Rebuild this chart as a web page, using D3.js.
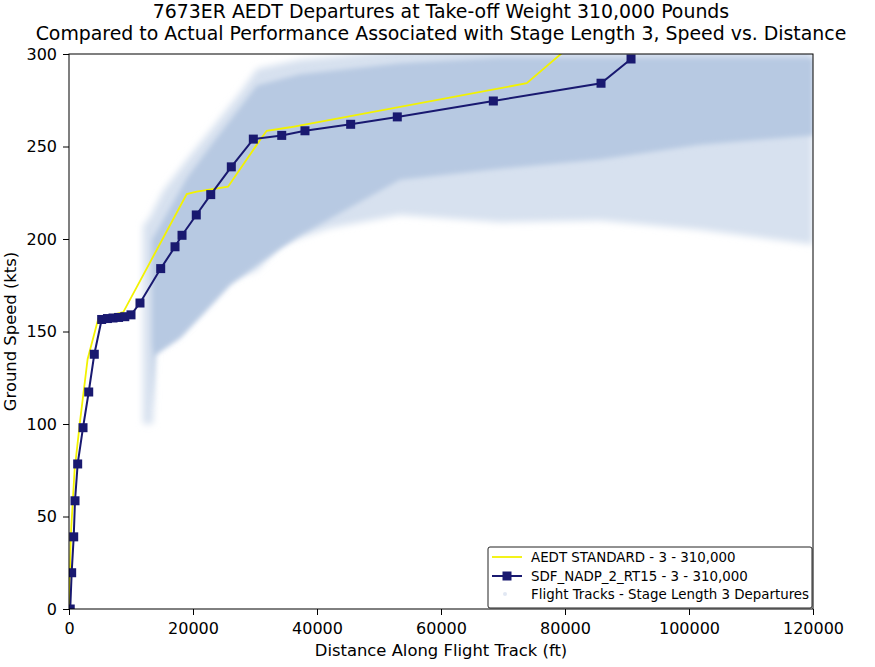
<!DOCTYPE html>
<html><head><meta charset="utf-8">
<script src="https://cdn.jsdelivr.net/npm/d3@7"></script>
<style>body{margin:0;background:#fff} text{font-family:"DejaVu Sans",sans-serif;fill:#000}</style>
</head><body>
<svg id="c" width="875" height="667"></svg>
<script>
// ---------- data ----------
const titleLines = ["7673ER AEDT Departures at Take-off Weight 310,000 Pounds",
  "Compared to Actual Performance Associated with Stage Length 3, Speed vs. Distance"];
const xLabel = "Distance Along Flight Track (ft)";
const yLabel = "Ground Speed (kts)";
const xTicks = [0, 20000, 40000, 60000, 80000, 100000, 120000];
const yTicks = [0, 50, 100, 150, 200, 250, 300];
const legendLabels = ["AEDT STANDARD - 3 - 310,000", "SDF_NADP_2_RT15 - 3 - 310,000", "Flight Tracks - Stage Length 3 Departures"];

const aedtX = [0, 300, 900, 1800, 3000, 4730, 8760, 18990, 20600, 25650, 30810, 31890, 35650, 73830, 79470, 85000];
const aedtY = [0, 40, 75, 102, 135, 157, 160.5, 224.3, 225.6, 228.3, 253.5, 258.5, 260.4, 284.2, 300.4, 320];

const sdfX = [200, 430, 760, 970, 1400, 2260, 3180, 4080, 5270, 6200, 7100, 8000, 9000, 10000, 11450, 14790, 17100, 18230, 20530, 22860, 26180, 29730, 34310, 38060, 45430, 52950, 68440, 85810, 90650];
const sdfY = [0, 19.6, 39, 58.5, 78.4, 98, 117.3, 137.7, 156.5, 157, 157.3, 157.6, 158, 159, 165.4, 184, 195.8, 202, 213, 224, 239, 254, 256, 258.5, 262, 266, 274.6, 284.2, 297.3];

// flight-track cloud envelopes
const outerUpX = [11935, 13065, 15160, 19030, 23225, 27580, 30325, 37260, 53390, 69520, 120000];
const outerUpY = [207, 212, 226, 243, 260.5, 279, 292, 297, 302, 305, 305];
const outerLoX = [120000, 101780, 85650, 69520, 53390, 42100, 34030, 30320, 25970, 22260, 17900, 13870, 13550, 11935];
const outerLoY = [197, 205, 210, 209, 213, 206, 197, 183, 178, 165, 148, 140, 100, 100];
const innerUpX = [13390, 19030, 23225, 27580, 30320, 37260, 53390, 69520, 120000];
const innerUpY = [199.5, 233, 252, 271, 283, 289, 295, 298, 298];
const innerLoX = [120000, 101780, 85650, 69520, 53390, 37260, 30320, 25970, 22260, 17900, 13870, 13390];
const innerLoY = [256, 251, 243, 238, 232, 202, 186, 175, 161.6, 146.5, 137, 107.6];

// ---------- layout ----------
const L = 69, R = 813, T = 54, B = 609;
const svg = d3.select("#c");
const x = d3.scaleLinear().domain([0, 120000]).range([L, R]);
const y = d3.scaleLinear().domain([0, 300]).range([B, T]);

const defs = svg.append("defs");
defs.append("clipPath").attr("id", "clip").append("rect")
  .attr("x", L).attr("y", T).attr("width", R - L).attr("height", B - T);
const f1 = defs.append("filter").attr("id", "blur1").attr("x", "-10%").attr("y", "-10%").attr("width", "120%").attr("height", "120%");
f1.append("feGaussianBlur").attr("stdDeviation", 3.5);
const f2 = defs.append("filter").attr("id", "blur2").attr("x", "-10%").attr("y", "-10%").attr("width", "120%").attr("height", "120%");
f2.append("feGaussianBlur").attr("stdDeviation", 2.5);

const plot = svg.append("g").attr("clip-path", "url(#clip)");

const poly = d3.line().x(d => x(d[0])).y(d => y(d[1]));
function ring(ux, uy, lx, ly) {
  const pts = ux.map((v, i) => [v, uy[i]]).concat(lx.map((v, i) => [v, ly[i]]));
  return poly(pts) + "Z";
}
plot.append("path").attr("d", ring(outerUpX, outerUpY, outerLoX, outerLoY))
  .attr("fill", "#d7e1ef").attr("filter", "url(#blur1)");
plot.append("path").attr("d", ring(innerUpX, innerUpY, innerLoX, innerLoY))
  .attr("fill", "#b7c9e2").attr("filter", "url(#blur2)");

const aedt = aedtX.map((v, i) => [v, aedtY[i]]);
const sdf = sdfX.map((v, i) => [v, sdfY[i]]);
plot.append("path").attr("d", poly(aedt)).attr("fill", "none").attr("stroke", "#f2f200").attr("stroke-width", 1.8);
plot.append("path").attr("d", poly(sdf)).attr("fill", "none").attr("stroke", "#191970").attr("stroke-width", 2);
const ms = 9;
plot.selectAll("rect.m").data(sdf).enter().append("rect").attr("class", "m")
  .attr("x", d => x(d[0]) - ms / 2).attr("y", d => y(d[1]) - ms / 2)
  .attr("width", ms).attr("height", ms).attr("fill", "#191970");

// ---------- axes ----------
const fs = 16;
const xa = svg.append("g").attr("transform", `translate(0,${B})`)
  .call(d3.axisBottom(x).tickValues(xTicks).tickFormat(d3.format("d")).tickSize(6).tickPadding(8));
const ya = svg.append("g").attr("transform", `translate(${L},0)`)
  .call(d3.axisLeft(y).tickValues(yTicks).tickFormat(d3.format("d")).tickSize(6).tickPadding(6));
[xa, ya].forEach(a => {
  a.select(".domain").remove();
  a.selectAll("line").attr("stroke", "#000");
  a.selectAll("text").attr("font-size", fs).attr("font-family", "DejaVu Sans").attr("fill", "#000");
});
svg.append("rect").attr("x", L).attr("y", T).attr("width", R - L).attr("height", B - T)
  .attr("fill", "none").attr("stroke", "#000").attr("stroke-width", 1);

svg.append("text").attr("x", (L + R) / 2).attr("y", 656).attr("text-anchor", "middle")
  .attr("font-size", 16.4).text(xLabel);
svg.append("text").attr("transform", `translate(16,${(T + B) / 2}) rotate(-90)`).attr("text-anchor", "middle")
  .attr("font-size", 16.4).text(yLabel);

svg.selectAll("text.title").data(titleLines).enter().append("text").attr("class", "title")
  .attr("x", (L + R) / 2).attr("y", (d, i) => 17.6 + i * 22.1).attr("text-anchor", "middle")
  .attr("font-size", 18.9).text(d => d);

// ---------- legend ----------
const lg = svg.append("g");
const lx0 = 488, ly0 = 547, lw = 324, lh = 61;
lg.append("rect").attr("x", lx0).attr("y", ly0).attr("width", lw).attr("height", lh).attr("rx", 2)
  .attr("fill", "#fff").attr("fill-opacity", 0.85).attr("stroke", "#222").attr("stroke-width", 1);
const rows = [557, 576, 594];
lg.append("line").attr("x1", lx0 + 4).attr("x2", lx0 + 34).attr("y1", rows[0]).attr("y2", rows[0])
  .attr("stroke", "#f2f200").attr("stroke-width", 1.8);
lg.append("line").attr("x1", lx0 + 4).attr("x2", lx0 + 34).attr("y1", rows[1]).attr("y2", rows[1])
  .attr("stroke", "#191970").attr("stroke-width", 2);
lg.append("rect").attr("x", lx0 + 19 - ms / 2).attr("y", rows[1] - ms / 2).attr("width", ms).attr("height", ms).attr("fill", "#191970");
lg.append("circle").attr("cx", lx0 + 17).attr("cy", rows[2]).attr("r", 2).attr("fill", "#b3c6e0").attr("opacity", 0.4);
lg.selectAll("text.lt").data(legendLabels).enter().append("text").attr("class", "lt")
  .attr("x", lx0 + 43).attr("y", (d, i) => rows[i] + 5).attr("font-size", 13.4).text(d => d);
</script>
</body></html>
